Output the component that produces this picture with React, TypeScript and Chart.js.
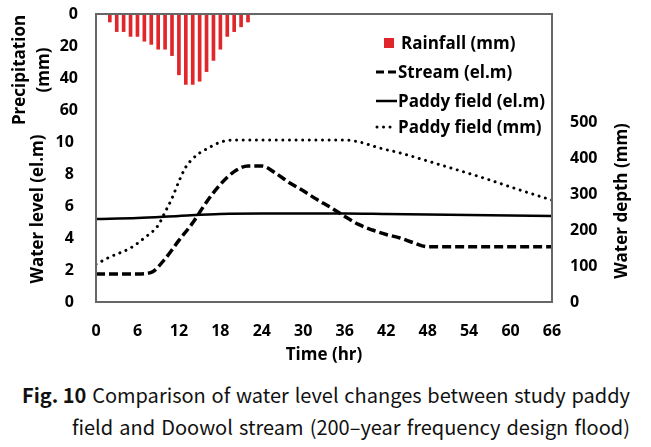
import React, { useEffect, useRef } from "react";
import { Chart, registerables } from "chart.js";

Chart.register(...registerables);

// ---- data ----
const rainHours = [2, 3, 4, 5, 6, 7, 8, 9, 10, 11, 12, 13, 14, 15, 16, 17, 18, 19, 20, 21, 22];
const rainfall = [5, 11, 11, 14, 14, 17, 19, 22, 22, 26, 38, 44, 44, 42, 36, 29, 22, 14, 11, 8, 5];

const streamHours = [0, 3, 6, 8, 10, 12, 14, 16, 18, 20, 22, 24, 26, 28, 30, 32, 34, 36, 38, 40, 42, 44, 46, 48, 54, 60, 66];
const streamLevel = [1.75, 1.75, 1.75, 1.85, 2.7, 3.85, 4.95, 6.25, 7.35, 8.15, 8.5, 8.5, 8.05, 7.45, 6.95, 6.4, 5.9, 5.35, 4.85, 4.5, 4.22, 4.0, 3.7, 3.45, 3.45, 3.45, 3.45];

const paddyHours = [0, 6, 12, 18, 24, 36, 42, 48, 54, 60, 66];
const paddyLevel = [5.18, 5.25, 5.38, 5.5, 5.53, 5.53, 5.5, 5.47, 5.44, 5.41, 5.38];

const depthHours = [0, 2, 5, 7, 9, 10, 11, 12, 13, 14, 15, 16, 18, 20, 36, 38, 41, 44, 50, 56, 62, 66];
const paddyDepth = [105, 125, 150, 178, 213, 250, 288, 335, 375, 398, 414, 425, 444, 450, 450, 445, 428, 414, 380, 345, 307, 283];

const xTicks = [0, 6, 12, 18, 24, 30, 36, 42, 48, 54, 60, 66];
const levelLabels = [0, 2, 4, 6, 8, 10];
const precipLabels = [0, 20, 40, 60];
const depthLabels = [0, 100, 200, 300, 400, 500];

const legendLabels = ["Rainfall (mm)", "Stream (el.m)", "Paddy field (el.m)", "Paddy field (mm)"];

const FONT = "'Open Sans', Lato, sans-serif";
const RED = "#E0262B";

const decorPlugin = {
  id: "decor",
  afterDatasetsDraw(chart: any) {
    const { ctx, chartArea } = chart;
    ctx.save();
    // box
    ctx.strokeStyle = "#666";
    ctx.lineWidth = 2;
    ctx.strokeRect(chartArea.left, chartArea.top, chartArea.right - chartArea.left, chartArea.bottom - chartArea.top);

    ctx.fillStyle = "#000";
    ctx.textAlign = "center";
    ctx.textBaseline = "middle";
    ctx.font = `bold 17px ${FONT}`;
    const rot = (text: string, x: number, y: number) => {
      ctx.save();
      ctx.translate(x, y);
      ctx.rotate(-Math.PI / 2);
      ctx.fillText(text, 0, 0);
      ctx.restore();
    };
    rot("Precipitation", 20, 70);
    rot("(mm)", 44, 70);
    rot("Water level (el.m)", 38, 209);
    rot("Water depth (mm)", 622, 201);
    ctx.fillText("Time (hr)", (chartArea.left + chartArea.right) / 2, 355);

    // legend
    ctx.textAlign = "left";
    const lx = 376;
    const tx = 398;
    const ys = [43, 72, 101, 127];
    ctx.fillStyle = RED;
    ctx.fillRect(384, ys[0] - 5, 10, 10);
    ctx.fillStyle = "#000";
    ctx.strokeStyle = "#000";
    // dashed
    ctx.lineWidth = 3;
    ctx.setLineDash([8, 4]);
    ctx.beginPath();
    ctx.moveTo(lx, ys[1]);
    ctx.lineTo(lx + 22, ys[1]);
    ctx.stroke();
    // solid
    ctx.setLineDash([]);
    ctx.lineWidth = 2.5;
    ctx.beginPath();
    ctx.moveTo(lx, ys[2]);
    ctx.lineTo(lx + 21, ys[2]);
    ctx.stroke();
    // dotted
    ctx.lineWidth = 3;
    ctx.lineCap = "round";
    ctx.setLineDash([0.01, 6.5]);
    ctx.beginPath();
    ctx.moveTo(lx + 1, ys[3]);
    ctx.lineTo(lx + 16, ys[3]);
    ctx.stroke();
    ctx.setLineDash([]);
    ctx.lineCap = "butt";
    legendLabels.forEach((t, i) => {
      ctx.fillText(t, i === 0 ? 401 : tx, ys[i] + 1);
    });
    ctx.restore();
  },
};

const noPad = (s: any) => {
  s.paddingTop = 0;
  s.paddingBottom = 0;
  s.paddingLeft = 0;
  s.paddingRight = 0;
};

export default function App() {
  const ref = useRef<HTMLCanvasElement>(null);
  useEffect(() => {
    if (!ref.current) return;
    const tickFont = { family: FONT, size: 16, weight: "bold" as const };
    const chart = new Chart(ref.current, {
      type: "line",
      data: {
        datasets: [
          {
            type: "bar",
            label: legendLabels[0],
            data: rainHours.map((h, i) => ({ x: h, y: rainfall[i] })),
            yAxisID: "yRain",
            backgroundColor: RED,
            barThickness: 3,
            order: 5,
          } as any,
          {
            type: "line",
            label: legendLabels[1],
            data: streamHours.map((h, i) => ({ x: h, y: streamLevel[i] })),
            yAxisID: "y",
            borderColor: "#000",
            borderWidth: 3.5,
            borderDash: [9, 4],
            pointRadius: 0,
            cubicInterpolationMode: "monotone",
            fill: false,
          },
          {
            type: "line",
            label: legendLabels[2],
            data: paddyHours.map((h, i) => ({ x: h, y: paddyLevel[i] })),
            yAxisID: "y",
            borderColor: "#000",
            borderWidth: 2.5,
            pointRadius: 0,
            cubicInterpolationMode: "monotone",
            fill: false,
          },
          {
            type: "line",
            label: legendLabels[3],
            data: depthHours.map((h, i) => ({ x: h, y: paddyDepth[i] })),
            yAxisID: "y2",
            borderColor: "#000",
            borderWidth: 3,
            borderDash: [0.01, 6.6],
            borderCapStyle: "round",
            pointRadius: 0,
            cubicInterpolationMode: "monotone",
            fill: false,
          },
        ],
      },
      options: {
        animation: false,
        responsive: false,
        devicePixelRatio: 1,
        layout: { autoPadding: false, padding: { top: 14, left: 0, right: 0, bottom: 0 } },
        plugins: { legend: { display: false }, tooltip: { enabled: false } },
        scales: {
          x: {
            type: "linear",
            min: 0,
            max: 66,
            offset: false,
            grid: { display: false, drawTicks: false },
            border: { display: false },
            afterBuildTicks: (s: any) => {
              s.ticks = xTicks.map((v) => ({ value: v }));
            },
            ticks: { color: "#000", font: tickFont, padding: 20, maxRotation: 0, autoSkip: false },
            afterFit: (s: any) => {
              s.height = 68;
              noPad(s);
            },
          },
          y: {
            position: "left",
            min: 0,
            max: 18,
            grid: { display: false, drawTicks: false },
            border: { display: false },
            ticks: {
              stepSize: 2,
              color: "#000",
              font: tickFont,
              padding: 18,
              callback: (v: any) => {
                if (levelLabels.includes(v)) return v + " ";
                const p = (18 - v) * 10;
                return precipLabels.includes(p) ? String(p) : "";
              },
            },
            afterFit: (s: any) => {
              s.width = 96;
              noPad(s);
            },
          },
          y2: {
            position: "right",
            min: 0,
            max: 800,
            grid: { display: false, drawTicks: false },
            border: { display: false },
            ticks: {
              stepSize: 100,
              color: "#000",
              font: tickFont,
              padding: 18,
              callback: (v: any) => (depthLabels.includes(v) ? String(v) : ""),
            },
            afterFit: (s: any) => {
              s.width = 99;
              noPad(s);
            },
          },
          yRain: {
            display: false,
            min: 0,
            max: 180,
            reverse: true,
          },
        },
      },
      plugins: [decorPlugin],
    });
    return () => chart.destroy();
  }, []);

  const capFont = "'Noto Sans CJK KR', 'Liberation Sans Narrow', sans-serif";
  const lineStyle: React.CSSProperties = {
    position: "absolute",
    fontFamily: capFont,
    fontSize: 20,
    color: "#111",
    whiteSpace: "nowrap",
    lineHeight: "24px",
  };
  return (
    <div style={{ position: "absolute", left: 0, top: 0, width: 651, height: 447, background: "#fff" }}>
      <canvas ref={ref} width={651} height={370} style={{ position: "absolute", left: 0, top: 0 }} />
      <div style={{ ...lineStyle, left: 22, top: 383, width: 608, display: "flex", justifyContent: "space-between" }}>
        <span style={{ fontWeight: "bold" }}>Fig. 10</span>
        {"Comparison of water level changes between study paddy".split(" ").map((w, i) => (
          <span key={i}>{w}</span>
        ))}
      </div>
      <div style={{ ...lineStyle, left: 72, top: 415, width: 558, display: "flex", justifyContent: "space-between" }}>
        {"field and Doowol stream (200–year frequency design flood)".split(" ").map((w, i) => (
          <span key={i}>{w}</span>
        ))}
      </div>
    </div>
  );
}
